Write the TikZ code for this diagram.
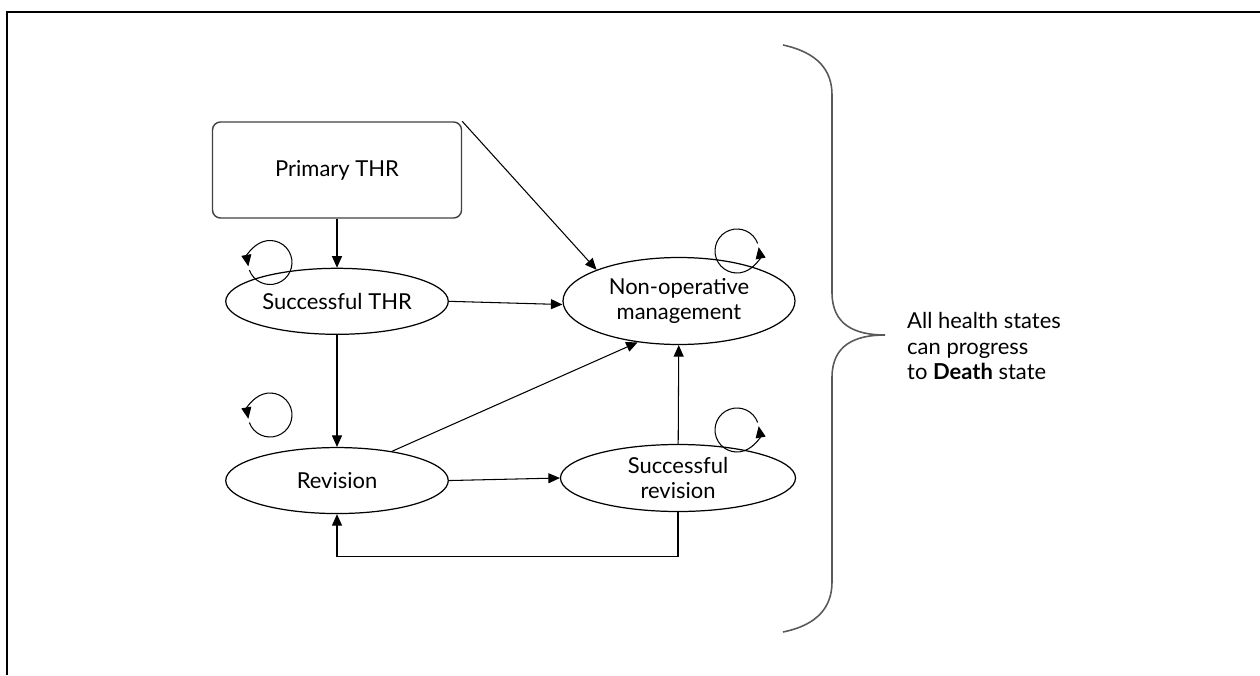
\documentclass[tikz,border=0pt]{standalone}
\usepackage{fontspec}
\setmainfont{Lato}
\usetikzlibrary{arrows.meta,positioning,calc,shapes.geometric}
\tikzset{
  statebox/.style={draw=black!75,rounded corners=4.5pt,align=center,
    minimum width=4.98cm,minimum height=1.92cm,line width=0.8pt},
  stateoval/.style={draw=black,ellipse,align=center,inner sep=0pt,
    minimum width=4.45cm,minimum height=1.32cm,line width=0.7pt},
  diagramarrow/.style={-{Triangle[length=2.3mm,width=2mm]},line width=0.6pt},
  looparrow/.style={-{Triangle[length=2.3mm,width=2mm]},line width=0.6pt},
  notelabel/.style={align=left,anchor=west}
}

\begin{document}
\begin{tikzpicture}[font=\fontsize{12.5}{14.4}\selectfont]
  \useasboundingbox (0,0) rectangle (25.2,13.5);
  % frame
  \draw[line width=1pt] (25.2,13.26) -- (0.14,13.26) -- (0.14,0);
  % states
  \node[statebox] (prim) at (6.74,10.1) {Primary THR};
  \node[stateoval,below=0.98cm of prim] (sthr) {Successful THR};
  \node[stateoval,below=2.24cm of sthr] (rev) {Revision};
  \node[stateoval,minimum width=4.64cm,minimum height=1.74cm] (nonop) at (13.58,7.48)
    {Non-operative\\management};
  \node[stateoval,minimum width=4.7cm,minimum height=1.34cm] (srev) at (13.56,3.94)
    {Successful\\revision};
  % transitions
  \draw[diagramarrow] (prim) -- (sthr);
  \draw[diagramarrow] (prim.north east) -- (nonop.north west);
  \draw[diagramarrow] (sthr.east) -- ([yshift=-2pt]nonop.west);
  \draw[diagramarrow] (sthr) -- (rev);
  \draw[diagramarrow] (rev.28) -- (nonop.225);
  \draw[diagramarrow] (rev.east) -- (srev.west);
  \draw[diagramarrow] (srev) -- (nonop);
  \draw[diagramarrow] (srev.south) -- ++(0,-0.88) -| (rev.south);
  % self loops
  \coordinate (loopsthr) at (5.4,8.25);
  \coordinate (looprev) at (5.4,5.2);
  \coordinate (loopnonop) at (14.74,8.48);
  \coordinate (loopsrev) at (14.74,4.9);
  \draw[looparrow] ([shift={(200:0.44)}]loopsthr) arc[start angle=200,end angle=550,radius=0.44];
  \draw[looparrow] ([shift={(200:0.44)}]looprev) arc[start angle=200,end angle=550,radius=0.44];
  \draw[looparrow] ([shift={(20:0.44)}]loopnonop) arc[start angle=20,end angle=370,radius=0.44];
  \draw[looparrow] ([shift={(20:0.44)}]loopsrev) arc[start angle=20,end angle=370,radius=0.44];
  % brace
  \draw[black!65,line width=0.9pt] (15.66,12.6) .. controls (16.35,12.45) and (16.64,12.1) .. (16.64,11.6)
    -- (16.64,7.65) .. controls (16.64,7.0) and (17.1,6.8) .. (17.7,6.8)
    .. controls (17.1,6.8) and (16.64,6.6) .. (16.64,5.95)
    -- (16.64,1.86) .. controls (16.64,1.36) and (16.35,1.0) .. (15.66,0.86);
  \node[notelabel] (note) at (18.02,6.58) {All health states\\can progress\\to \textbf{Death} state};
\end{tikzpicture}
\end{document}
